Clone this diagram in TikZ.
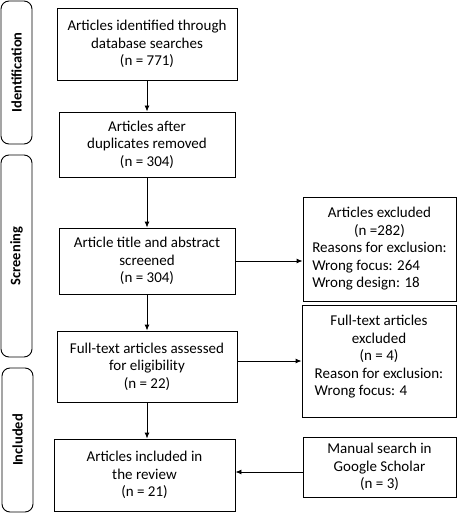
\documentclass[tikz,border=0pt]{standalone}
\usepackage{fontspec}
\setmainfont{Carlito}
\usetikzlibrary{arrows.meta}
\begin{document}
\begin{tikzpicture}[x=1pt,y=-1pt,
  every node/.style={font=\fontsize{15}{17.5}\selectfont, inner sep=0pt},
  box/.style={draw, line width=0.9pt, align=center},
  side/.style={draw, line width=0.9pt, rounded corners=8pt},
  sidetext/.style={font=\fontsize{14.5}{15}\selectfont\bfseries, rotate=90},
  arr/.style={line width=0.9pt, -{Latex[length=6pt,width=5pt]}}]
\useasboundingbox[fill=white] (0,0) rectangle (464,513);
% side labels
\node[side, minimum width=31, minimum height=143] (s1) at (16.5,72.5) {};
\node[sidetext] (t1) at (s1.center) {Identification};
\node[side, minimum width=31, minimum height=202] (s2) at (16.5,256) {};
\node[sidetext] (t2) at (s2.center) {Screening};
\node[side, minimum width=31, minimum height=144] (s3) at (17.5,440) {};
\node[sidetext] (t3) at (s3.center) {Included};
% main boxes
\node[box, minimum width=180, minimum height=72] (b1) at (147,44) {Articles identified through\\database searches\\(n = 771)};
\node[box, minimum width=176, minimum height=65] (b2) at (147,144.5) {Articles after\\duplicates removed\\(n = 304)};
\node[box, minimum width=176, minimum height=66] (b3) at (147,261) {Article title and abstract\\screened\\(n = 304)};
\node[box, minimum width=180, minimum height=71] (b4) at (147,366.5) {Full-text articles assessed\\for eligibility\\(n = 22)};
\node[box, minimum width=181, minimum height=72] (b5) at (144.5,475) {Articles included in\\the review\\(n = 21)};
% right boxes
\node[box, minimum width=153, minimum height=104] (r1) at (379.5,249) {\begin{tabular}{@{}l@{}}\multicolumn{1}{@{}c@{}}{Articles excluded}\\\multicolumn{1}{@{}c@{}}{(n =282)}\\Reasons for exclusion:\\Wrong focus: 264\\Wrong design: 18\end{tabular}};
\node[box, minimum width=154, minimum height=112] (r2) at (379,361) {\begin{tabular}{@{}l@{}}\multicolumn{1}{@{}c@{}}{Full-text articles}\\\multicolumn{1}{@{}c@{}}{excluded}\\\multicolumn{1}{@{}c@{}}{(n = 4)}\\Reason for exclusion:\\Wrong focus: 4\\[8pt]\end{tabular}};
\node[box, minimum width=153, minimum height=60] (r3) at (379.5,467) {Manual search in\\Google Scholar\\(n = 3)};
% arrows
\draw[arr] (b1.south) -- (b2.north);
\draw[arr] (b2.south) -- (b3.north);
\draw[arr] (b3.south) -- (b4.north);
\draw[arr] (b4.south) -- (b4.south |- b5.north);
\draw[arr] (b3.east) -- (b3.east -| r1.west);
\draw[arr] (b4.east |- r2.west) -- (r2.west);
\draw[arr] ([yshift=-5pt]r3.west) -- ([yshift=-5pt]r3.west -| b5.east);
\end{tikzpicture}
\end{document}
